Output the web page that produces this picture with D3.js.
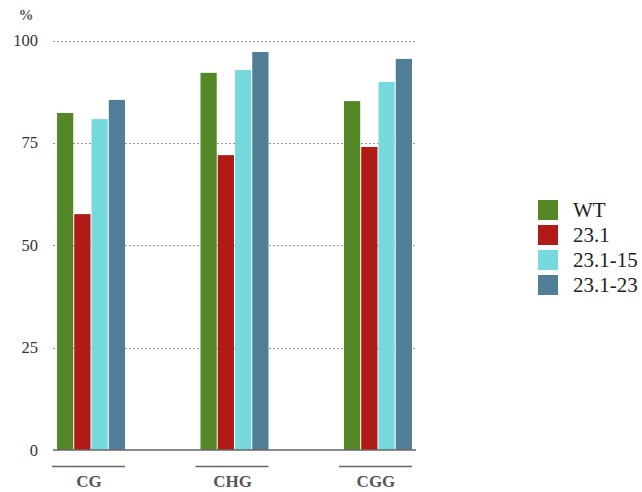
<!DOCTYPE html>
<html><head><meta charset="utf-8">
<script src="https://cdn.jsdelivr.net/npm/d3@7"></script>
<style>body{margin:0;background:#fff}</style>
</head><body><svg id="c" width="642" height="492"></svg>
<script>
const categories = ["CG", "CHG", "CGG"];
const seriesNames = ["WT", "23.1", "23.1-15", "23.1-23"];
const WT = [82.3, 92.1, 85.2];
const s231 = [57.6, 72.0, 74.0];
const s23115 = [80.8, 92.8, 89.9];
const s23123 = [85.5, 97.2, 95.5];
const yTicks = [0, 25, 50, 75, 100];
const colors = ["#548827", "#b01a17", "#76d9dc", "#4f7e96"];

const FONT = "'Liberation Serif', 'Times New Roman', serif";
const series = [WT, s231, s23115, s23123];
const svg = d3.select("#c");
const x0 = d3.scaleBand().domain(categories).range([53, 416]).paddingInner(0.526).paddingOuter(0.028);
const x1 = d3.scaleBand().domain(seriesNames).range([0, x0.bandwidth()]).paddingInner(0.06);
const y = d3.scaleLinear().domain([0, 100]).range([450, 40.5]);

// gridlines
svg.append("g").selectAll("line").data(yTicks.filter(d => d > 0)).join("line")
  .attr("x1", 53).attr("x2", 416).attr("y1", d => Math.round(y(d)) + 0.5).attr("y2", d => Math.round(y(d)) + 0.5)
  .attr("stroke", "#999").attr("stroke-width", 1).attr("stroke-dasharray", "2,2");

// y labels
svg.append("g").selectAll("text").data(yTicks).join("text")
  .attr("x", 38).attr("y", d => y(d) + 5.5).attr("text-anchor", "end")
  .attr("font-family", FONT).attr("font-size", 16.5).attr("fill", "#333").text(d => d);
svg.append("text").attr("x", 26).attr("y", 20).attr("text-anchor", "middle")
  .attr("font-family", FONT).attr("font-size", 15).attr("font-weight", "bold").attr("fill", "#555").text("%");

// bars
const g = svg.append("g");
categories.forEach((c, ci) => {
  series.forEach((s, si) => {
    g.append("rect")
      .attr("x", x0(c) + x1(seriesNames[si]))
      .attr("width", x1.bandwidth())
      .attr("y", y(s[ci]))
      .attr("height", y(0) - y(s[ci]))
      .attr("fill", colors[si]);
  });
});

// baseline
svg.append("line").attr("x1", 53).attr("x2", 416).attr("y1", 450).attr("y2", 450)
  .attr("stroke", "#666").attr("stroke-width", 1.5);

// category underline & labels
const cg = svg.append("g").selectAll("g").data(categories).join("g");
cg.append("line").attr("x1", d => x0(d) - 5).attr("x2", d => x0(d) + x0.bandwidth())
  .attr("y1", 466.5).attr("y2", 466.5).attr("stroke", "#666").attr("stroke-width", 1.5);
cg.append("text").attr("x", d => x0(d) + x0.bandwidth() / 2 - 2).attr("y", 487)
  .attr("text-anchor", "middle").attr("font-family", FONT).attr("font-size", 17).attr("font-weight", "bold")
  .attr("fill", "#555").text(d => d);

// legend
const lg = svg.append("g").selectAll("g").data(seriesNames).join("g")
  .attr("transform", (d, i) => `translate(538,${200 + i * 25})`);
lg.append("rect").attr("width", 20).attr("height", 20).attr("fill", (d, i) => colors[i]);
lg.append("text").attr("x", 35).attr("y", 17).attr("font-family", FONT).attr("font-size", 21).attr("fill", "#222").text(d => d);
</script></body></html>
